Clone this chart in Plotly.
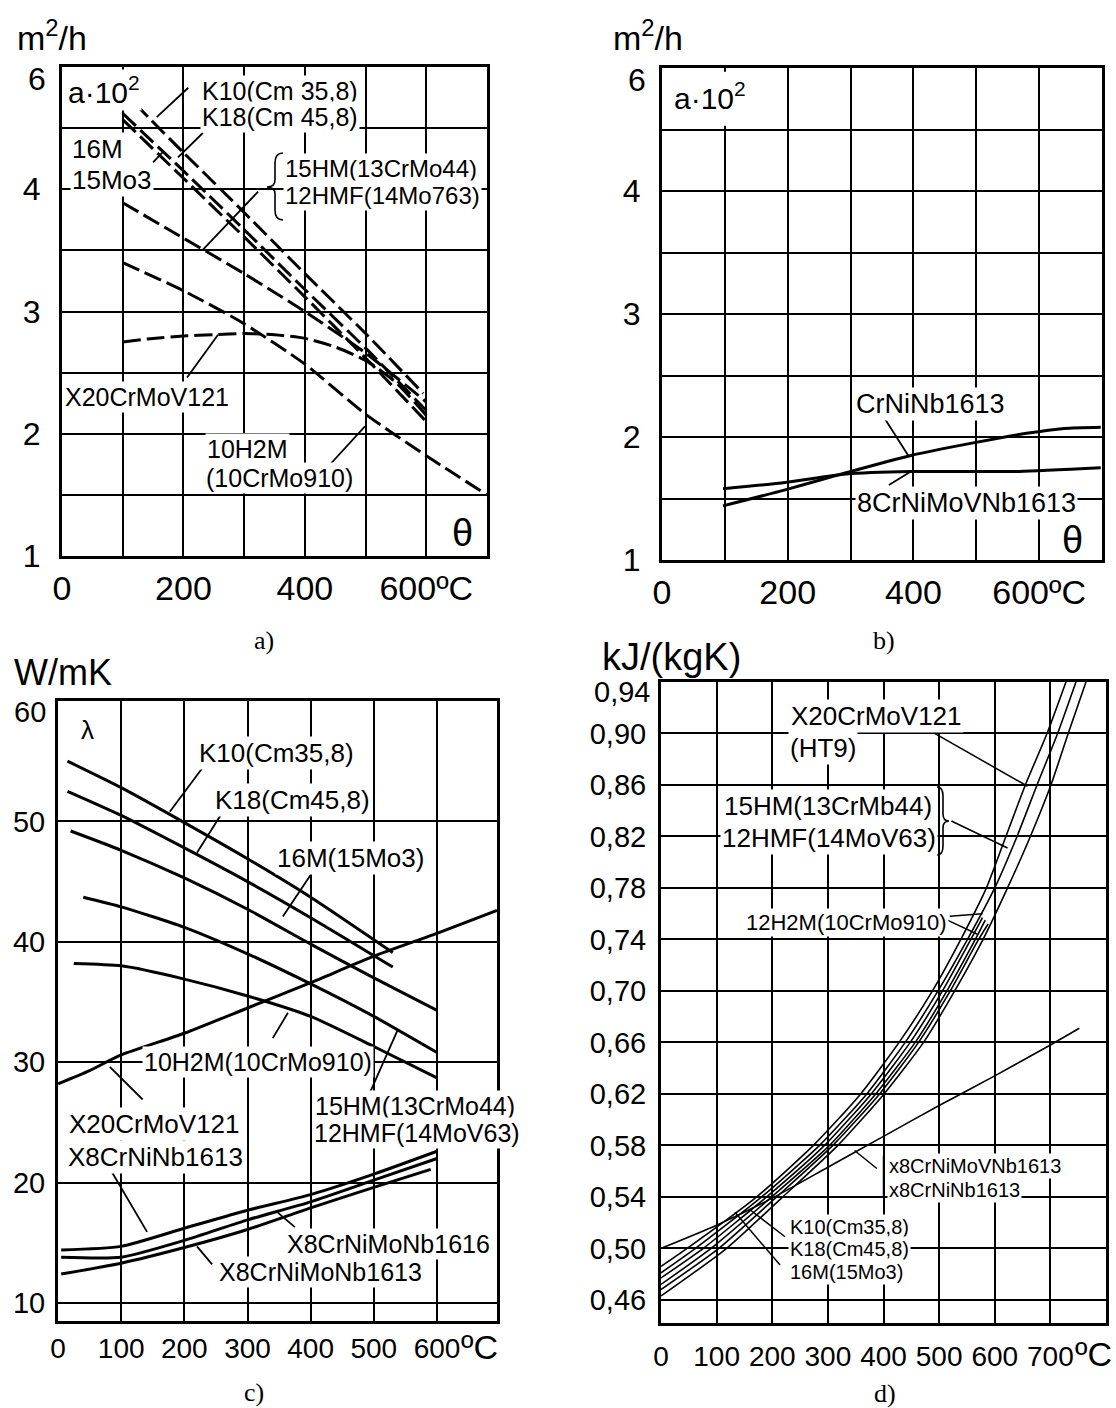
import plotly.graph_objects as go

W, H = 1116, 1408
SANS = "Liberation Sans, Arial, sans-serif"
SERIF = "Liberation Serif, Times New Roman, serif"

# ---------------- panel a) thermal diffusivity a*10^2 [m2/h] ----------------
a_K10_T = [120, 200, 300, 400, 500, 595]
a_K10_v = [4.70, 4.30, 3.81, 3.31, 2.82, 2.33]
a_K18_T = [100, 200, 300, 400, 500, 600]
a_K18_v = [4.62, 4.15, 3.67, 3.18, 2.70, 2.19]
a_16M_T = [100, 200, 300, 400, 500, 600]
a_16M_v = [4.57, 4.09, 3.61, 3.12, 2.62, 2.10]
a_15HM_T = [100, 200, 300, 400, 500, 600]
a_15HM_v = [3.89, 3.60, 3.31, 3.00, 2.66, 2.26]
a_X20_T = [100, 150, 200, 250, 300, 350, 400, 450, 500, 550, 600]
a_X20_v = [2.75, 2.78, 2.80, 2.81, 2.82, 2.81, 2.78, 2.71, 2.60, 2.42, 2.15]
a_10H2M_T = [100, 200, 300, 400, 500, 600, 700]
a_10H2M_v = [3.40, 3.17, 2.90, 2.57, 2.16, 1.82, 1.50]

# ---------------- panel b) austenitic steels a*10^2 ----------------
b_CrNiNb_T = [97, 196, 293, 396, 493, 580, 640, 698]
b_CrNiNb_v = [1.44, 1.57, 1.71, 1.85, 1.95, 2.03, 2.07, 2.08]
b_8CrNiMoVNb_T = [97, 196, 293, 396, 453, 568, 698]
b_8CrNiMoVNb_v = [1.58, 1.63, 1.70, 1.72, 1.72, 1.72, 1.75]

# ---------------- panel c) thermal conductivity lambda [W/mK] ----------------
c_K10_T = [15, 100, 200, 300, 400, 530]
c_K10_v = [55.0, 52.8, 49.9, 46.9, 43.7, 39.1]
c_K18_T = [15, 100, 200, 300, 400, 530]
c_K18_v = [52.5, 50.5, 47.8, 45.0, 42.0, 37.9]
c_16M_T = [20, 100, 200, 300, 400, 500, 600]
c_16M_v = [49.2, 47.6, 45.3, 42.7, 39.8, 37.0, 34.3]
c_15HM_T = [40, 100, 200, 300, 400, 500, 600]
c_15HM_v = [43.7, 42.9, 41.2, 39.0, 36.5, 33.8, 30.8]
c_10H2M_T = [25, 100, 200, 300, 400, 500, 600]
c_10H2M_v = [38.2, 38.0, 36.9, 35.5, 33.8, 31.3, 28.7]
c_X20_T = [0, 50, 100, 200, 300, 400, 500, 600, 695]
c_X20_v = [28.2, 29.3, 30.6, 32.4, 34.5, 36.6, 38.8, 40.7, 42.6]
c_X8CrNiNb1613_T = [5, 100, 200, 300, 400, 500, 600]
c_X8CrNiNb1613_v = [14.4, 14.7, 16.2, 17.7, 19.0, 20.7, 22.6]
c_X8CrNiMoNb1616_T = [5, 100, 200, 300, 400, 500, 600]
c_X8CrNiMoNb1616_v = [13.8, 13.8, 15.2, 16.9, 18.4, 20.2, 22.0]
c_X8CrNiMoNb1613_T = [5, 100, 200, 300, 400, 500, 590]
c_X8CrNiMoNb1613_v = [12.4, 13.3, 14.6, 16.1, 17.9, 19.6, 21.1]

# ---------------- panel d) specific heat [kJ/(kgK)] ----------------
d_X20_T = [0, 47, 172, 274, 359, 428, 488, 539, 585, 620, 655, 694, 728]
d_X20_v = [0.486, 0.50, 0.54, 0.58, 0.62, 0.66, 0.70, 0.74, 0.78, 0.82, 0.86, 0.90, 0.94]
d_15HM_T = [0, 62, 181, 285, 370, 439, 498, 551, 600, 640, 676, 713, 746]
d_15HM_v = [0.481, 0.50, 0.54, 0.58, 0.62, 0.66, 0.70, 0.74, 0.78, 0.82, 0.86, 0.90, 0.94]
d_K10_T = [0, 76, 190, 294, 378, 448, 506, 557, 578]
d_K10_v = [0.477, 0.50, 0.54, 0.58, 0.62, 0.66, 0.70, 0.74, 0.757]
d_K18_T = [0, 90, 199, 303, 386, 457, 514, 565, 583]
d_K18_v = [0.472, 0.50, 0.54, 0.58, 0.62, 0.66, 0.70, 0.74, 0.755]
d_16M_T = [0, 104, 208, 309, 393, 463, 520, 571, 588]
d_16M_v = [0.468, 0.50, 0.54, 0.58, 0.62, 0.66, 0.70, 0.74, 0.752]
d_12H2M_T = [0, 118, 219, 318, 401, 472, 528, 579, 623, 664, 701, 732, 764]
d_12H2M_v = [0.463, 0.50, 0.54, 0.58, 0.62, 0.66, 0.70, 0.74, 0.78, 0.82, 0.86, 0.90, 0.94]
d_aust_T = [0, 100, 200, 300, 400, 500, 600, 700, 752]
d_aust_v = [0.500, 0.518, 0.539, 0.563, 0.587, 0.611, 0.634, 0.658, 0.671]

# ---------------- tick labels ----------------
ab_xticks = [0, 100, 200, 300, 400, 500, 600, 700]
ab_xtext = ["0", "", "200", "", "400", "", "600ºC", ""]
ab_yticks = [1, 1.5, 2, 2.5, 3, 3.5, 4, 4.5, 5]
ab_ytext = ["1", "", "2", "", "3", "", "4", "", ""]
ab_ytop = "6"
c_xticks = [0, 100, 200, 300, 400, 500, 600]
c_xtext = ["0", "100", "200", "300", "400", "500", "600"]
c_yticks = [10, 20, 30, 40, 50, 60]
c_ytext = ["10", "20", "30", "40", "50", ""]
c_ytop = "60"
d_xticks = [0, 100, 200, 300, 400, 500, 600, 700]
d_xtext = ["0", "100", "200", "300", "400", "500", "600", "700"]
d_yticks = [0.46, 0.50, 0.54, 0.58, 0.62, 0.66, 0.70, 0.74, 0.78, 0.82, 0.86, 0.90, 0.94]
d_ytext = ["0,46", "0,50", "0,54", "0,58", "0,62", "0,66", "0,70", "0,74",
           "0,78", "0,82", "0,86", "0,90", ""]
d_ytop = "0,94"

fig = go.Figure()

DASH = "18px,6px"


def add(T, v, ax, width=3, dash="solid"):
    fig.add_trace(go.Scatter(
        x=T, y=v, xaxis="x" + ax, yaxis="y" + ax, mode="lines",
        line=dict(color="black", width=width, dash=dash, shape="spline", smoothing=0.6),
        showlegend=False, hoverinfo="skip"))


# panel a
for T, v in [(a_K10_T, a_K10_v), (a_K18_T, a_K18_v), (a_16M_T, a_16M_v),
             (a_15HM_T, a_15HM_v), (a_X20_T, a_X20_v), (a_10H2M_T, a_10H2M_v)]:
    add(T, v, "", 3, DASH)
# panel b
for T, v in [(b_CrNiNb_T, b_CrNiNb_v), (b_8CrNiMoVNb_T, b_8CrNiMoVNb_v)]:
    add(T, v, "2", 3)
# panel c
for T, v in [(c_K10_T, c_K10_v), (c_K18_T, c_K18_v), (c_16M_T, c_16M_v),
             (c_15HM_T, c_15HM_v), (c_10H2M_T, c_10H2M_v), (c_X20_T, c_X20_v),
             (c_X8CrNiNb1613_T, c_X8CrNiNb1613_v),
             (c_X8CrNiMoNb1616_T, c_X8CrNiMoNb1616_v),
             (c_X8CrNiMoNb1613_T, c_X8CrNiMoNb1613_v)]:
    add(T, v, "3", 3)
# panel d
for T, v in [(d_X20_T, d_X20_v), (d_15HM_T, d_15HM_v), (d_K10_T, d_K10_v),
             (d_K18_T, d_K18_v), (d_16M_T, d_16M_v), (d_12H2M_T, d_12H2M_v),
             (d_aust_T, d_aust_v)]:
    add(T, v, "4", 1.6)


def xa(x0, x1, rng, tv, tt, anchor, size, standoff):
    return dict(domain=[x0 / W, x1 / W], range=rng, anchor=anchor,
                tickvals=tv, ticktext=tt, showgrid=True, gridcolor="black",
                gridwidth=2, showline=True, linecolor="black", linewidth=3,
                mirror=True, ticks="", zeroline=False, ticklabelstandoff=standoff,
                tickfont=dict(family=SANS, size=size, color="black"),
                automargin=False, fixedrange=True)


def ya(y0, y1, rng, tv, tt, anchor, size, standoff):
    return dict(domain=[1 - y1 / H, 1 - y0 / H], range=rng, anchor=anchor,
                tickvals=tv, ticktext=tt, showgrid=True, gridcolor="black",
                gridwidth=2, showline=True, linecolor="black", linewidth=3,
                mirror=True, ticks="", zeroline=False, ticklabelstandoff=standoff,
                tickfont=dict(family=SANS, size=size, color="black"),
                automargin=False, fixedrange=True)


fig.update_layout(
    width=W, height=H, margin=dict(l=0, r=0, t=0, b=0, autoexpand=False),
    paper_bgcolor="white", plot_bgcolor="white",
    font=dict(family=SANS, color="black"),
    xaxis=xa(62, 487, [0, 700], ab_xticks, ab_xtext, "y", 34, 0),
    yaxis=ya(67, 556, [1, 5], ab_yticks, ab_ytext, "x", 32, 12),
    xaxis2=xa(662, 1102, [0, 700], ab_xticks, ab_xtext, "y2", 34, 0),
    yaxis2=ya(68, 560, [1, 5], ab_yticks, ab_ytext, "x2", 32, 12),
    xaxis3=xa(58, 497, [0, 695], c_xticks, c_xtext, "y3", 28, 0),
    yaxis3=ya(701, 1321, [8.5, 60], c_yticks, c_ytext, "x3", 29, 4),
    xaxis4=xa(661, 1106, [0, 800], d_xticks, d_xtext, "y4", 28, 6),
    yaxis4=ya(682, 1323, [0.442, 0.94], d_yticks, d_ytext, "x4", 29, 6),
)

anns = []


def txt(text, x, y, size, xanchor="center", bg=True, family=SANS):
    anns.append(dict(text=text, x=x / W, y=1 - y / H, xref="paper", yref="paper",
                     xanchor=xanchor, yanchor="middle", showarrow=False,
                     font=dict(family=family, size=size, color="black"),
                     bgcolor="white" if bg else "rgba(0,0,0,0)", borderpad=1))


# top-most axis labels (placed a bit below their gridline, as in the original)
txt(ab_ytop, 48, 79, 32, "right", False)
txt(ab_ytop, 648, 80, 32, "right", False)
txt(c_ytop, 48, 712, 29, "right", False)
txt(d_ytop, 652, 692, 29, "right", False)

# units / captions
txt("m<sup>2</sup>/h", 15, 36, 34, "left", False)
txt("m<sup>2</sup>/h", 611, 36, 34, "left", False)
txt("W/mK", 12, 672, 36, "left", False)
txt("kJ/(kgK)", 600, 657, 38, "left", False)
txt("a)", 264, 640, 26, family=SERIF, bg=False)
txt("b)", 884, 640, 26, family=SERIF, bg=False)
txt("c)", 254, 1392, 26, family=SERIF, bg=False)
txt("d)", 885, 1393, 26, family=SERIF, bg=False)
txt("ºC", 459, 1347, 34, "left", False)
txt("ºC", 1073, 1354, 34, "left", False)

# panel a labels
txt("a·10<sup>2</sup>", 66, 90, 30, "left")
txt("K10(Cm 35,8)", 200, 91, 25, "left")
txt("K18(Cm 45,8)", 200, 117, 25, "left")
txt("16M", 70, 149, 26, "left")
txt("15Mo3", 70, 180, 26, "left")
txt("15HM(13CrMo44)", 283, 169, 24, "left")
txt("12HMF(14Mo763)", 283, 196, 24, "left")
txt("X20CrMoV121", 63, 397, 25, "left")
txt("10H2M", 205, 449, 25, "left")
txt("(10CrMo910)", 204, 478, 25, "left")
txt("θ", 462, 533, 38, bg=False)

# panel b labels
txt("a·10<sup>2</sup>", 672, 96, 30, "left")
txt("CrNiNb1613", 930, 404, 27)
txt("8CrNiMoVNb1613", 966, 503, 27)
txt("θ", 1072, 540, 38, bg=False)

# panel c labels
txt("λ", 87, 730, 26)
txt("K10(Cm35,8)", 276, 753, 26)
txt("K18(Cm45,8)", 292, 800, 26)
txt("16M(15Mo3)", 350, 858, 26)
txt("10H2M(10CrMo910)", 258, 1062, 25)
txt("X20CrMoV121", 154, 1124, 26)
txt("X8CrNiNb1613", 155, 1157, 26)
txt("15HM(13CrMo44)", 415, 1106, 25)
txt("12HMF(14MoV63)", 417, 1133, 25)
txt("X8CrNiMoNb1616", 388, 1244, 25)
txt("X8CrNiMoNb1613", 320, 1272, 25)

# panel d labels
txt("X20CrMoV121", 876, 716, 26)
txt("(HT9)", 788, 748, 26, "left")
txt("15HM(13CrMb44)", 828, 806, 26)
txt("12HMF(14MoV63)", 829, 838, 26)
txt("12H2M(10CrMo910)", 846, 922, 22)
txt("x8CrNiMoVNb1613", 887, 1166, 20, "left")
txt("x8CrNiNb1613", 887, 1190, 20, "left")
txt("K10(Cm35,8)", 788, 1227, 20, "left")
txt("K18(Cm45,8)", 788, 1249, 20, "left")
txt("16M(15Mo3)", 788, 1272, 20, "left")

fig.update_layout(annotations=anns)

shapes = []


def ptr(ax, x0, y0, x1, y1, w=1.8):
    shapes.append(dict(type="line", xref="x" + ax, yref="y" + ax,
                       x0=x0, y0=y0, x1=x1, y1=y1,
                       line=dict(color="black", width=w), layer="above"))


# pointer lines (data coordinates of each panel)
ptr("", 208, 4.83, 156, 4.59)
ptr("", 232, 4.46, 191, 4.26)
ptr("", 150, 4.22, 165, 4.30)
ptr("", 323, 3.98, 231, 3.50)
ptr("", 206, 2.46, 257, 2.81)
ptr("", 438, 1.73, 499, 2.06)
ptr("2", 353, 2.16, 393, 1.84)
ptr("2", 361, 1.61, 396, 1.72)
ptr("3", 228, 54.4, 177, 50.8)
ptr("3", 261, 50.8, 220, 47.4)
ptr("3", 403, 45.8, 356, 42.1)
ptr("3", 364, 34.1, 340, 32.0)
ptr("3", 538, 32.7, 494, 27.5)
ptr("3", 82, 29.6, 134, 26.9)
ptr("3", 85, 20.9, 141, 15.9)
ptr("3", 375, 16.3, 348, 17.5)
ptr("3", 244, 13.2, 220, 14.7)
ptr("4", 488, 0.901, 659, 0.859, 1.5)
ptr("4", 522, 0.832, 623, 0.811, 1.5)
ptr("4", 515, 0.755, 569, 0.744, 1.5)
ptr("4", 519, 0.758, 578, 0.760, 1.5)
ptr("4", 388, 0.562, 348, 0.576, 1.5)
ptr("4", 400, 0.572, 400, 0.540, 1.5)
ptr("4", 223, 0.509, 160, 0.530, 1.5)
ptr("4", 214, 0.487, 133, 0.528, 1.5)

# white cell behind "a·10²" in panel b (gridline hidden there)
shapes.append(dict(type="rect", xref="x2", yref="y2", x0=4, x1=196, y0=4.53, y1=4.97,
                   fillcolor="white", line=dict(width=0), layer="between"))


def P(x, y):
    return f"{x / W:.5f},{1 - y / H:.5f}"


# curly braces
left_brace = ("M" + P(283, 153) + " Q" + P(275, 153) + " " + P(275, 163) +
              " L" + P(275, 180) + " Q" + P(275, 187) + " " + P(267, 187) +
              " Q" + P(275, 187) + " " + P(275, 194) + " L" + P(275, 210) +
              " Q" + P(275, 220) + " " + P(283, 220))
right_brace = ("M" + P(937, 787) + " Q" + P(943, 787) + " " + P(943, 796) +
               " L" + P(943, 814) + " Q" + P(943, 821) + " " + P(949, 821) +
               " Q" + P(943, 821) + " " + P(943, 828) + " L" + P(943, 846) +
               " Q" + P(943, 855) + " " + P(937, 855))
for pth in (left_brace, right_brace):
    shapes.append(dict(type="path", xref="paper", yref="paper", path=pth,
                       line=dict(color="black", width=1.6), layer="above"))

fig.update_layout(shapes=shapes)

fig.write_html("out.html",
               config={"displayModeBar": False},
               post_script="document.body.style.margin='0px';"
                           "document.body.style.overflow='hidden';")
